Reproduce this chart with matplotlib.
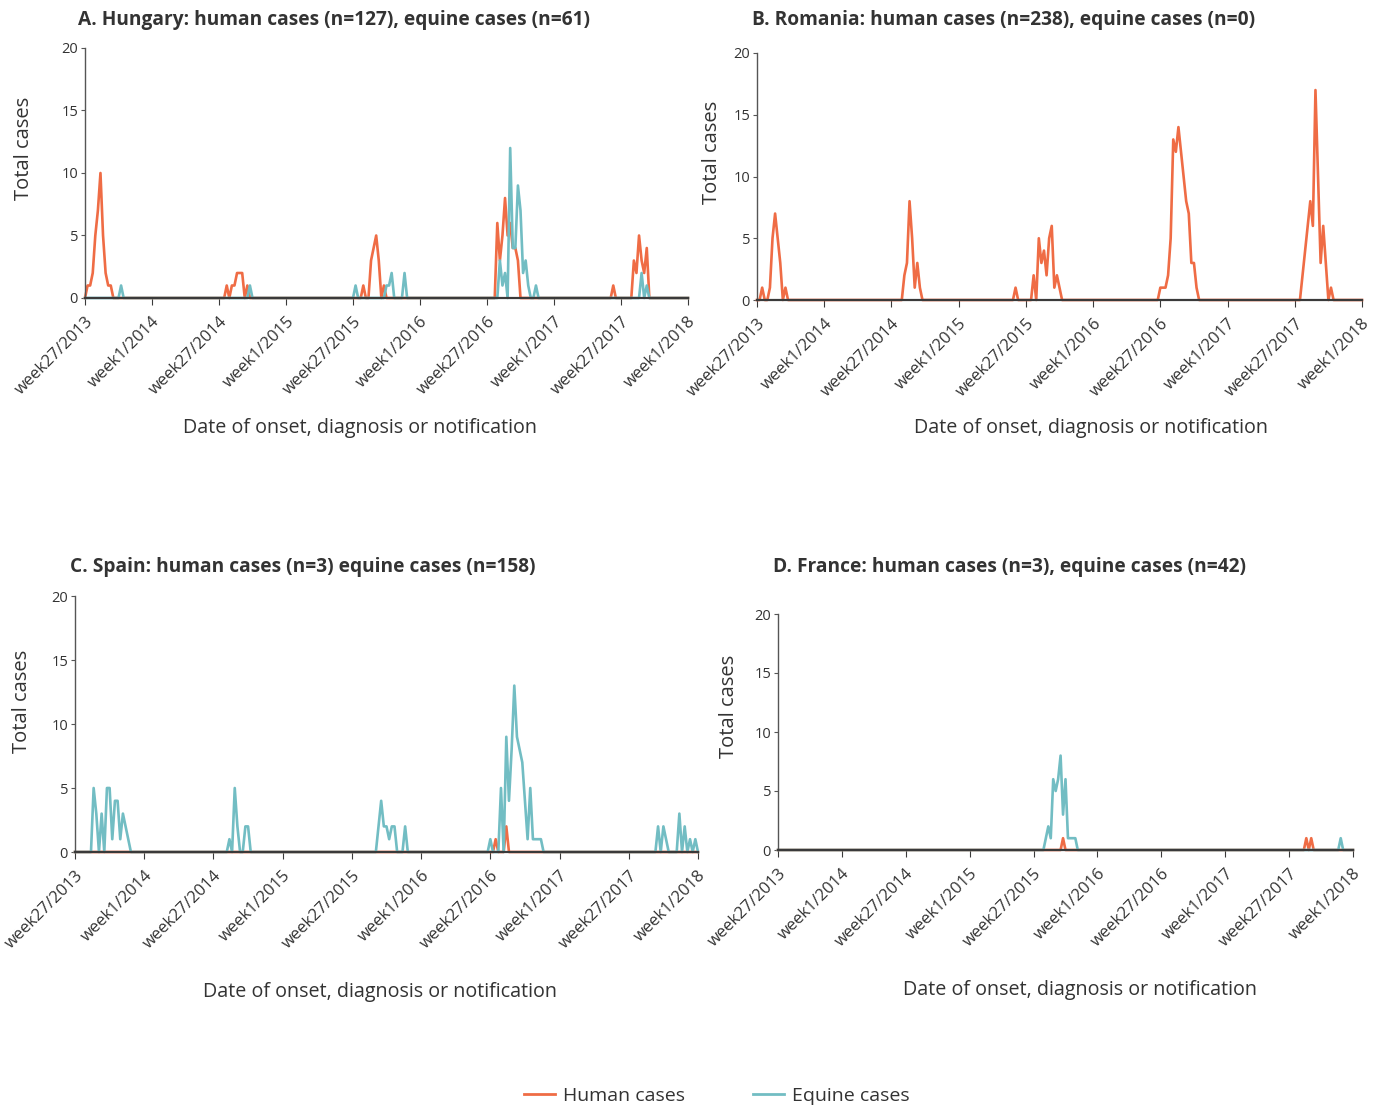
import numpy as np
import matplotlib
matplotlib.use("Agg")
import matplotlib.pyplot as plt
from matplotlib.lines import Line2D

plt.rcParams['font.family'] = ['Open Sans', 'DejaVu Sans']

# ---------------- data ----------------
N_WEEKS = 235  # week27/2013 ... week1/2018
tick_weeks = [0, 26, 52, 78, 104, 130, 156, 182, 208, 234]
tick_labels = ['week27/2013', 'week1/2014', 'week27/2014', 'week1/2015', 'week27/2015',
               'week1/2016', 'week27/2016', 'week1/2017', 'week27/2017', 'week1/2018']

# weekly counts given as bursts: {first week index: [counts...]}, zero elsewhere
hu_human = {0: [0, 1, 1, 2, 5, 7, 10, 5, 2, 1, 1, 0],
            55: [1, 0, 1, 1, 2, 2, 2, 0, 1, 0],
            108: [1, 0, 0, 3, 4, 5, 3, 0, 1, 0],
            160: [6, 3, 5, 8, 5, 6, 4, 4, 3, 0],
            205: [1],
            213: [3, 2, 5, 3, 2, 4, 0]}
hu_equine = {14: [1], 64: [1], 105: [1],
             117: [1, 1, 2, 0], 124: [2],
             160: [0, 3, 1, 2, 0, 12, 4, 4, 9, 7, 2, 3, 1, 0, 0, 1, 0],
             216: [2, 0, 1]}

ro_human = {0: [0, 0, 1, 0, 0, 1, 5, 7, 5, 3, 0, 1, 0],
            56: [0, 2, 3, 8, 5, 1, 3, 1, 0],
            100: [1],
            107: [2, 0, 5, 3, 4, 2, 5, 6, 1, 2, 1, 0],
            155: [0, 1, 1, 1, 2, 5, 13, 12, 14, 12, 10, 8, 7, 3, 3, 1, 0],
            210: [0, 2, 4, 6, 8, 6, 17, 10, 3, 6, 3, 0, 1, 0]}
ro_equine = {}

es_human = {158: [1], 162: [2]}
es_equine = {6: [0, 5, 3, 0, 3, 0, 5, 5, 1, 4, 4, 1, 3, 2, 1, 0],
             57: [0, 1, 0, 5, 2, 0, 0, 2, 2, 0],
             113: [0, 2, 4, 2, 2, 1, 2, 2, 0, 0, 0, 2, 0],
             156: [1, 0, 0, 0, 5, 0, 9, 4, 8, 13, 9, 8, 7, 4, 1, 5, 1, 1, 1, 1, 0],
             219: [2, 0, 2, 1, 0, 0, 0, 0, 3, 0, 2, 0, 1, 0, 1]}

fr_human = {116: [1], 215: [1, 0, 1]}
fr_equine = {108: [0, 1, 2, 1, 6, 5, 6, 8, 3, 6, 1, 1, 1, 1, 0],
             229: [1]}

titles = ['A. Hungary: human cases (n=127), equine cases (n=61)',
          'B. Romania: human cases (n=238), equine cases (n=0)',
          'C. Spain: human cases (n=3) equine cases (n=158)',
          'D. France: human cases (n=3), equine cases (n=42)']


def build(bursts):
    s = np.zeros(N_WEEKS)
    for start, vals in bursts.items():
        s[start:start + len(vals)] = vals
    return s


HUMAN_C = '#EF6C45'
EQUINE_C = '#72BDC3'
TXT = '#333333'

W, H = 1381, 1106
fig = plt.figure(figsize=(W / 100, H / 100), dpi=100)


def fx(x):
    return x / W


def fy(y):
    return 1 - y / H


layout = [
    # (left, top, right, bottom), title pos, ylabel pos, xlabel pos
    ((85, 48, 688, 298), (78, 20), (24, 148), (360, 428)),
    ((757, 53, 1362, 300), (752, 20), (712, 152), (1091, 428)),
    ((75, 596, 698, 852), (70, 567), (22, 701), (380, 992)),
    ((778, 614, 1353, 850), (773, 567), (729, 706), (1080, 990)),
]
series = [(hu_human, hu_equine), (ro_human, ro_equine), (es_human, es_equine), (fr_human, fr_equine)]

x = np.arange(N_WEEKS)
for (box, tp, ylp, xlp), (hum, equ), title in zip(layout, series, titles):
    l, t, r, b = box
    ax = fig.add_axes([fx(l), fy(b), fx(r - l), (b - t) / H])
    ax.plot(x, build(hum), color=HUMAN_C, lw=1.9, clip_on=False, zorder=2)
    if equ:
        ax.plot(x, build(equ), color=EQUINE_C, lw=1.9, clip_on=False, zorder=2.1)
    ax.set_xlim(0, N_WEEKS - 1)
    ax.set_ylim(0, 20)
    ax.set_yticks([0, 5, 10, 15, 20])
    ax.set_xticks(tick_weeks)
    ax.set_xticklabels(tick_labels, rotation=45, ha='right', rotation_mode='anchor',
                       fontsize=12, color=TXT)
    for s in ('top', 'right'):
        ax.spines[s].set_visible(False)
    ax.spines['left'].set_color('#555555')
    ax.spines['left'].set_linewidth(1.0)
    ax.spines['bottom'].set_color('#3a3a3a')
    ax.spines['bottom'].set_linewidth(1.6)
    ax.spines['bottom'].set_zorder(3)
    ax.tick_params(axis='y', labelsize=10.5, labelcolor=TXT, length=3, width=0.8,
                   color='#555555', pad=2)
    ax.tick_params(axis='x', length=5, width=0.8, color='#3a3a3a', pad=6)
    fig.text(fx(tp[0]), fy(tp[1]), title, fontsize=13.8, fontweight='bold',
             color=TXT, ha='left', va='center')
    fig.text(fx(ylp[0]), fy(ylp[1]), 'Total cases', rotation=90, fontsize=14.5,
             color=TXT, ha='center', va='center')
    fig.text(fx(xlp[0]), fy(xlp[1]), 'Date of onset, diagnosis or notification',
             fontsize=14.2, color=TXT, ha='center', va='center')

handles = [Line2D([], [], color=HUMAN_C, lw=2), Line2D([], [], color=EQUINE_C, lw=2)]
fig.legend(handles, ['Human cases', 'Equine cases'], loc='center',
           bbox_to_anchor=(fx(717), fy(1096)), ncol=2, frameon=False,
           fontsize=14, handlelength=1.6, handletextpad=0.4, columnspacing=3.5,
           labelcolor=TXT)

fig.savefig('out.png', dpi=100)
